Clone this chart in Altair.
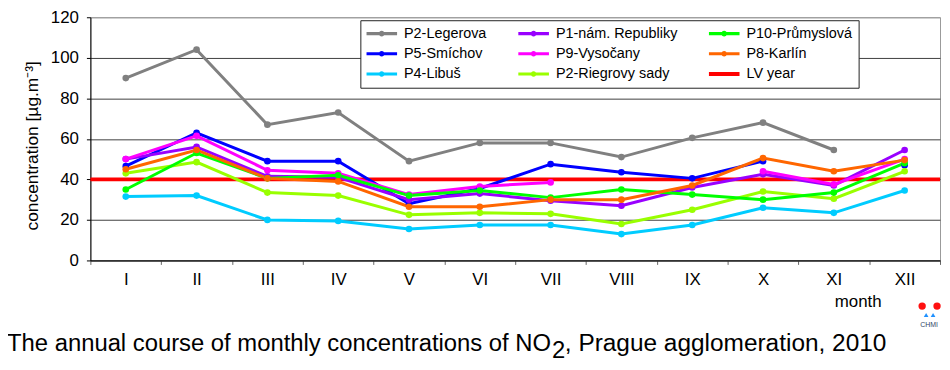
import altair as alt
import pandas as pd

# ---------------- data ----------------
months = ["I", "II", "III", "IV", "V", "VI", "VII", "VIII", "IX", "X", "XI", "XII"]

legerova = [90, 104, 67, 73, 49, 58, 58, 51, 60.5, 68, 54.5, None]
republiky = [50, 56, 41.5, 41, 30, 33, 29.5, 27, 36, 42.5, 37, 54.5]
prumyslova = [35, 53, 40.5, 42, 32, 34.5, 31, 35, 32.5, 30, 33.5, 48]
smichov = [46.5, 63, 49, 49, 28, 35.5, 47.5, 43.5, 40.5, 49, None, 47]
vysocany = [50, 61.5, 44.5, 43, 32.5, 36.5, 38.5, None, None, 44, 37.5, 50]
karlin = [45, 54.5, 40.5, 39, 26.5, 26.5, 30, 30, 37, 50.5, 44, 49.5]
libus = [31.5, 32, 20, 19.5, 15.5, 17.5, 17.5, 13, 17.5, 26, 23.5, 34.5]
riegrovy = [43, 48.5, 33.5, 32, 22.5, 23.5, 23, 18, 25, 34, 30.5, 44]
lv_year = [40]

# legend order (filled column by column)
series_names = ["P2-Legerova", "P5-Smíchov", "P4-Libuš",
                "P1-nám. Republiky", "P9-Vysočany", "P2-Riegrovy sady",
                "P10-Průmyslová", "P8-Karlín", "LV year"]
series_colors = ["#808080", "#0000FF", "#00CCFF",
                 "#9900FF", "#FF00FF", "#99FF00",
                 "#00FF00", "#FF6600", "#FF0000"]

y_ticks = [0, 20, 40, 60, 80, 100, 120]
title_parts = ["The annual course of monthly concentrations of NO", "2",
               ", Prague agglomeration, 2010"]
y_title = "concentration [µg.m⁻³]"
x_title = "month"
logo_text = ["CHMI"]

# ---------------- table ----------------
station_values = {
    "P2-Legerova": legerova,
    "P5-Smíchov": smichov,
    "P4-Libuš": libus,
    "P1-nám. Republiky": republiky,
    "P9-Vysočany": vysocany,
    "P2-Riegrovy sady": riegrovy,
    "P10-Průmyslová": prumyslova,
    "P8-Karlín": karlin,
}
rows = []
for name, vals in station_values.items():
    seg, prev = 0, False
    for m, v in zip(months, vals):
        if v is None:
            prev = False
            continue
        if not prev:
            seg += 1
        prev = True
        rows.append({"month": m, "series": name, "value": v, "seg": f"{name}#{seg}"})
df = pd.DataFrame(rows)
lv_df = pd.DataFrame({"value": lv_year})
legend_df = pd.DataFrame({"series": series_names})

FONT = "Liberation Sans"
W, H = 856, 245

dot_path = ("M-1,-0.1L1,-0.1L1,0.1L-1,0.1Z "
            "M-0.18,0A0.18,0.18 0 1,1 0.18,0A0.18,0.18 0 1,1 -0.18,0Z")
bar_path = "M-1,-0.13L1,-0.13L1,0.13L-1,0.13Z"
legend_shapes = [dot_path] * 8 + [bar_path]

legend = alt.Legend(
    title=None, orient="none", legendX=272, legendY=3, columns=3,
    symbolSize=961, symbolOpacity=1, symbolStrokeWidth=0, clipHeight=15,
    labelFont=FONT, labelFontSize=14.5,
    labelColor="black", labelLimit=300, labelOffset=7, columnPadding=31,
    rowPadding=4.3, padding=6, strokeColor="#222222", fillColor="white",
)

color_scale = alt.Scale(domain=series_names, range=series_colors)

x_enc = alt.X("month:N", sort=months,
              scale=alt.Scale(type="band", domain=months, paddingInner=0, paddingOuter=0),
              axis=alt.Axis(title=x_title, labelAngle=0, tickBand="extent", tickSize=4,
                            labelFontSize=17, labelFont=FONT, labelColor="black",
                            labelPadding=7, grid=False, domainColor="black",
                            tickColor="#666666", titleX=773, titleY=41,
                            titleAlign="center", titleBaseline="middle",
                            titleFont=FONT, titleFontSize=17, titleFontWeight="normal",
                            titleColor="black"))
y_enc = alt.Y("value:Q", scale=alt.Scale(domain=[0, 120], nice=False),
              axis=alt.Axis(values=y_ticks, title=y_title, titleX=-58, titleY=129,
                            titleAngle=270, titleAlign="center", titleBaseline="middle",
                            titleFont=FONT, titleFontSize=17.5, titleFontWeight="normal",
                            titleColor="black", tickSize=4, labelPadding=8,
                            labelFontSize=17, labelFont=FONT, labelColor="black",
                            grid=True,
                            gridColor={"condition": {"test": "datum.value === 120", "value": "#9a9a9a"},
                                       "value": "#404040"},
                            domainColor="black", tickColor="black"))

base = alt.Chart(df)

legend_layer = alt.Chart(legend_df).mark_point(filled=True, opacity=0, size=1).encode(
    x=alt.value(0), y=alt.value(0),
    color=alt.Color("series:N", scale=color_scale, legend=legend),
    shape=alt.Shape("series:N", scale=alt.Scale(domain=series_names, range=legend_shapes),
                    legend=legend),
)

lv_rule = alt.Chart(lv_df).mark_rule(color="#FF0000", strokeWidth=4).encode(y="value:Q")

lines = base.mark_line(strokeWidth=3).encode(
    x=x_enc, y=y_enc, detail="seg:N",
    color=alt.Color("series:N", scale=color_scale, legend=None))
points = base.mark_circle(size=45, opacity=1).encode(
    x=x_enc, y=y_enc,
    color=alt.Color("series:N", scale=color_scale, legend=None))

t1 = alt.Chart(pd.DataFrame({"t": [title_parts[0]]})).mark_text(
    align="left", baseline="alphabetic", font=FONT, fontSize=24, color="black"
).encode(text="t:N", x=alt.value(-84), y=alt.value(336))
t2 = alt.Chart(pd.DataFrame({"t": [title_parts[1]]})).mark_text(
    align="left", baseline="alphabetic", font=FONT, fontSize=24, color="black"
).encode(text="t:N", x=alt.value(465), y=alt.value(343))
t3 = alt.Chart(pd.DataFrame({"t": [title_parts[2]]})).mark_text(
    align="left", baseline="alphabetic", font=FONT, fontSize=24.6, color="black"
).encode(text="t:N", x=alt.value(478), y=alt.value(336))

logo_r1 = alt.Chart(lv_df).mark_circle(size=55, opacity=1, color="#FF1010").encode(
    x=alt.value(838), y=alt.value(291))
logo_r2 = alt.Chart(lv_df).mark_circle(size=55, opacity=1, color="#FF1010").encode(
    x=alt.value(853), y=alt.value(291))
logo_b1 = alt.Chart(lv_df).mark_point(shape="triangle-up", filled=True, size=22, opacity=1,
                                      color="#1E90FF").encode(x=alt.value(842), y=alt.value(300))
logo_b2 = alt.Chart(lv_df).mark_point(shape="triangle-up", filled=True, size=22, opacity=1,
                                      color="#1E90FF").encode(x=alt.value(849), y=alt.value(300))
logo_t = alt.Chart(pd.DataFrame({"t": logo_text})).mark_text(
    align="center", baseline="middle", font=FONT, fontSize=7, color="#334466"
).encode(text="t:N", x=alt.value(845), y=alt.value(310))

chart = alt.layer(legend_layer, lv_rule, lines, points, t1, t2, t3,
                  logo_r1, logo_r2, logo_b1, logo_b2, logo_t).properties(
    width=W, height=H,
    autosize=alt.AutoSizeParams(type="none"),
    padding={"left": 83, "top": 8, "right": 2, "bottom": 101},
).configure(font=FONT).configure_view(stroke="#9a9a9a", strokeWidth=1)

chart.save("out.html", embed_options={"renderer": "svg", "actions": False})
